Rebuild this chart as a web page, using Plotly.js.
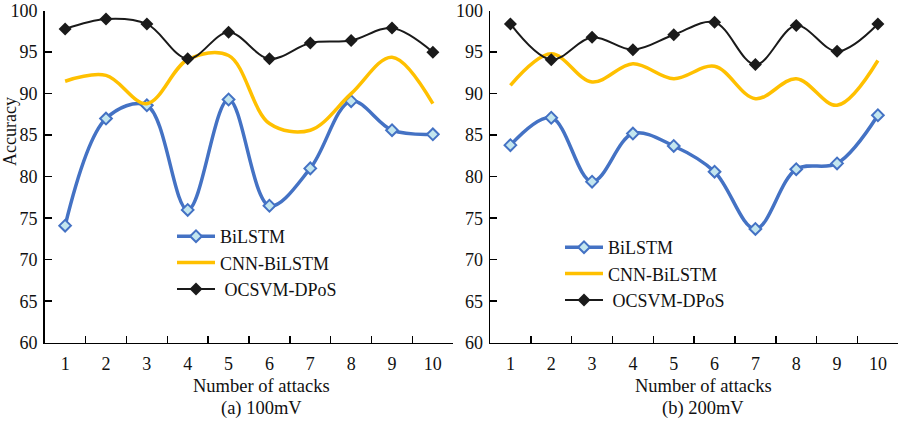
<!DOCTYPE html>
<html>
<head>
<meta charset="utf-8">
<script src="https://cdn.plot.ly/plotly-3.0.1.min.js"></script>
<style>html,body{margin:0;padding:0;background:#fff;}#chart{width:902px;height:421px;}</style>
</head>
<body>
<div id="chart"></div>
<script>
const attacks = ["1","2","3","4","5","6","7","8","9","10"];
const yTicks = [60,65,70,75,80,85,90,95,100];

// (a) 100mV
const bilstmA = [74.1, 87.0, 88.6, 76.0, 89.3, 76.5, 81.0, 89.1, 85.6, 85.1];
const cnnA    = [91.5, 92.2, 88.8, 94.1, 94.6, 86.4, 85.6, 90.0, 94.4, 88.8];
const ocsvmA  = [97.8, 99.0, 98.4, 94.2, 97.4, 94.2, 96.1, 96.4, 97.9, 95.0];

// (b) 200mV
const bilstmB = [83.8, 87.1, 79.4, 85.2, 83.7, 80.6, 73.7, 80.9, 81.6, 87.4];
const cnnB    = [91.0, 94.8, 91.4, 93.6, 91.8, 93.3, 89.4, 91.8, 88.6, 94.0];
const ocsvmB  = [98.4, 94.1, 96.8, 95.3, 97.1, 98.6, 93.5, 98.2, 95.1, 98.4];

const seriesNames = ["BiLSTM", "CNN-BiLSTM", "OCSVM-DPoS"];

const W = 902, H = 421;
const BLUE = "#4472C4", YELLOW = "#FFC000", BLACK = "#1a1a1a";
const serif = "Liberation Serif, Times New Roman, serif";

function traces(b, c, o, xa, ya, lg) {
  return [
    {x: attacks, y: b, name: seriesNames[0], xaxis: xa, yaxis: ya, legend: lg,
     type: "scatter", mode: "lines+markers",
     line: {color: BLUE, width: 3.5, shape: "spline", smoothing: 1},
     marker: {symbol: "diamond", size: 9, color: "#c3e6ef", line: {color: BLUE, width: 2}}},
    {x: attacks, y: c, name: seriesNames[1], xaxis: xa, yaxis: ya, legend: lg,
     type: "scatter", mode: "lines",
     line: {color: YELLOW, width: 3.5, shape: "spline", smoothing: 1}},
    {x: attacks, y: o, name: " " + seriesNames[2], xaxis: xa, yaxis: ya, legend: lg,
     type: "scatter", mode: "lines+markers",
     line: {color: BLACK, width: 2, shape: "spline", smoothing: 1},
     marker: {symbol: "diamond", size: 10, color: BLACK}}
  ];
}

const data = [].concat(
  traces(bilstmA, cnnA, ocsvmA, "x", "y", "legend"),
  traces(bilstmB, cnnB, ocsvmB, "x2", "y2", "legend2")
);

const yDom = [(H - 342.7) / H, (H - 10.5) / H];

function xAxis(dom, anchor) {
  return {
    domain: dom, anchor: anchor, type: "category", tickson: "boundaries",
    ticks: "inside", ticklen: 7, tickwidth: 1.5, tickcolor: "#000",
    showline: true, linecolor: "#000", linewidth: 1.5, showgrid: false, zeroline: false,
    tickfont: {family: serif, size: 18, color: "#111"}, ticklabelstandoff: 4,
    range: [-0.5, 9.5], fixedrange: true
  };
}
function yAxis(anchor) {
  return {
    domain: yDom, anchor: anchor, range: [60, 100.02], tickvals: yTicks,
    ticks: "inside", ticklen: 7, tickwidth: 1.5, tickcolor: "#000",
    showline: true, linecolor: "#000", linewidth: 1.5, showgrid: false, zeroline: false,
    tickfont: {family: serif, size: 18, color: "#111"}, ticklabelstandoff: 2,
    ticklabeloverflow: "allow"
  };
}

const legendBase = {
  font: {family: serif, size: 18, color: "#111"},
  bgcolor: "rgba(0,0,0,0)", borderwidth: 0, itemwidth: 38,
  xanchor: "left", yanchor: "top", tracegroupgap: 0
};

const layout = {
  width: W, height: H,
  margin: {l: 0, r: 0, t: 0, b: 0},
  paper_bgcolor: "#fff", plot_bgcolor: "#fff",
  xaxis: xAxis([44.7 / W, 453.3 / W], "y"),
  yaxis: yAxis("x"),
  xaxis2: xAxis([490 / W, 898.3 / W], "y2"),
  yaxis2: yAxis("x2"),
  legend: Object.assign({}, legendBase, {x: 172 / W, y: (H - 218) / H}),
  legend2: Object.assign({}, legendBase, {x: 560 / W, y: (H - 229) / H}),
  annotations: [
    {text: "Accuracy", xref: "paper", yref: "paper", x: 10 / W, y: (H - 132) / H,
     xanchor: "center", yanchor: "middle",
     textangle: -90, showarrow: false, font: {family: serif, size: 18, color: "#111"}},
    {text: "Number of attacks", xref: "paper", yref: "paper", x: 261 / W, y: (H - 386) / H,
     xanchor: "center", yanchor: "middle",
     showarrow: false, font: {family: serif, size: 18.5, color: "#111"}},
    {text: "(a) 100mV", xref: "paper", yref: "paper", x: 261 / W, y: (H - 408) / H,
     xanchor: "center", yanchor: "middle",
     showarrow: false, font: {family: serif, size: 18.5, color: "#111"}},
    {text: "Number of attacks", xref: "paper", yref: "paper", x: 703 / W, y: (H - 386) / H,
     xanchor: "center", yanchor: "middle",
     showarrow: false, font: {family: serif, size: 18.5, color: "#111"}},
    {text: "(b) 200mV", xref: "paper", yref: "paper", x: 703 / W, y: (H - 408) / H,
     xanchor: "center", yanchor: "middle",
     showarrow: false, font: {family: serif, size: 18.5, color: "#111"}}
  ]
};

Plotly.newPlot("chart", data, layout, {displayModeBar: false, staticPlot: true});
</script>
</body>
</html>
